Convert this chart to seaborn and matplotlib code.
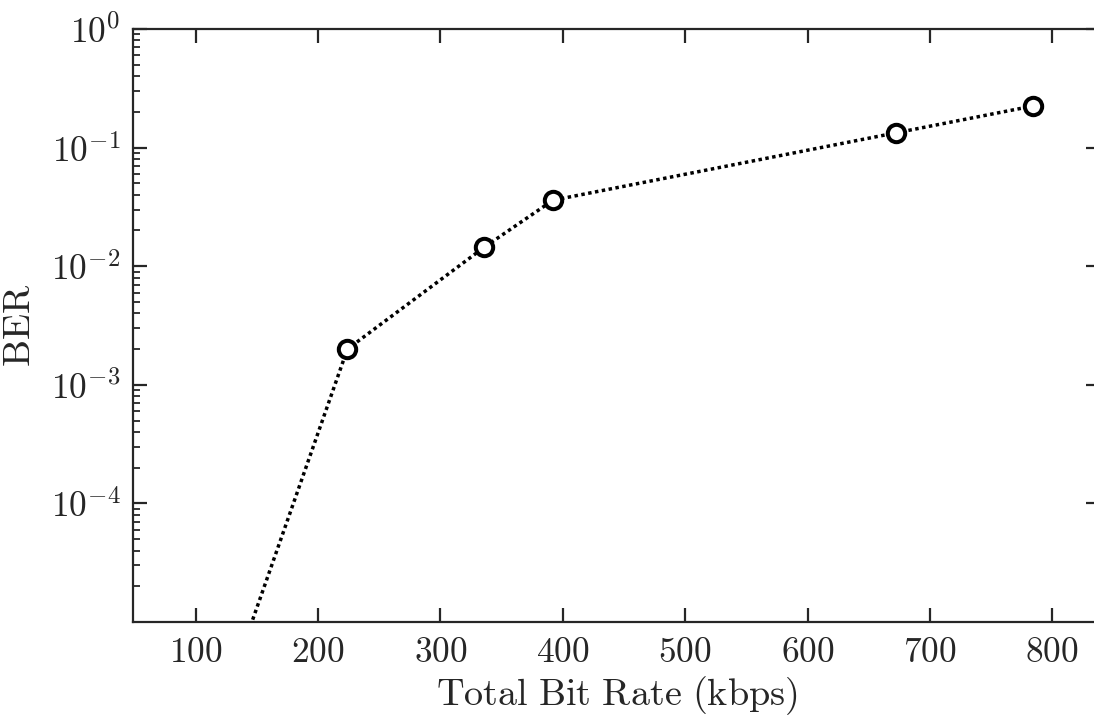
import matplotlib
matplotlib.use("Agg")
import matplotlib.pyplot as plt
import matplotlib.ticker as mticker
import seaborn as sns
import pandas as pd
import numpy as np

# Data
bit_rate = [112, 224, 336, 392, 672, 784]
ber = [1.0e-6, 2.0e-3, 1.45e-2, 3.6e-2, 1.33e-1, 2.24e-1]
x_ticks = [100, 200, 300, 400, 500, 600, 700, 800]
y_ticks = [1e-4, 1e-3, 1e-2, 1e-1, 1e0]

sns.set_theme(style="ticks")
plt.rcParams["font.family"] = ["DejaVu Serif"]
plt.rcParams["mathtext.fontset"] = "cm"

df = pd.DataFrame({"rate": bit_rate, "ber": ber})

fig = plt.figure(figsize=(10.94, 7.17), dpi=100)
ax = fig.add_axes([133 / 1094, 1 - 622 / 717, (1100 - 133) / 1094, (622 - 29) / 717])

sns.lineplot(data=df, x="rate", y="ber", ax=ax, color="black", linewidth=2.5,
             marker="o", markersize=12.5, markerfacecolor="white",
             markeredgecolor="black", markeredgewidth=2.9)
line = ax.lines[0]
line.set_dashes((1.0, 1.0))
line.set_dash_capstyle("butt")

ax.set_yscale("log")
ax.set_xlim(48.8, 839)
ax.set_ylim(1e-5, 1)
ax.set_xticks(x_ticks)
ax.xaxis.set_major_formatter(mticker.FuncFormatter(lambda v, p: r"$\mathrm{%d}$" % v))
ax.yaxis.set_major_locator(mticker.FixedLocator(y_ticks))
ax.yaxis.set_major_formatter(mticker.FuncFormatter(lambda v, p: r"$10^{%d}$" % round(np.log10(v))))
ax.yaxis.set_minor_locator(mticker.LogLocator(base=10, subs=np.arange(2, 10)))
ax.yaxis.set_minor_formatter(mticker.NullFormatter())

for s in ax.spines.values():
    s.set_visible(True)
    s.set_linewidth(1.6)
    s.set_color("#262626")

ax.tick_params(axis="both", which="major", direction="in", length=10, width=1.6,
               colors="#262626", labelsize=25.5, top=True, right=True, pad=9)
ax.tick_params(axis="y", which="minor", direction="in", length=5, width=1.3,
               colors="#262626", left=True, right=False)
ax.tick_params(axis="x", which="minor", bottom=False, top=False)

ax.set_xlabel(r"$\mathrm{Total\ Bit\ Rate\ (kbps)}$", fontsize=27.5, color="#262626", labelpad=4)
ax.set_ylabel(r"$\mathrm{BER}$", fontsize=27.5, color="#262626")
ax.yaxis.set_label_coords((38 - 133) / 967, 0.5)

fig.savefig("out.png", dpi=100)
